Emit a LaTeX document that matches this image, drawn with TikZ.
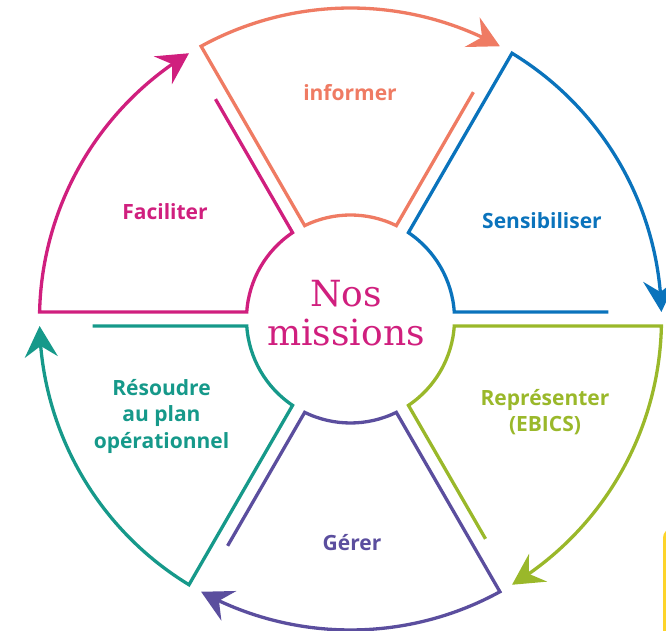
\documentclass[tikz,border=0pt]{standalone}
\usepackage{fontspec}
\newfontfamily\lab{Open Sans}
\newfontfamily\slab{DejaVu Serif}
\usetikzlibrary{arrows.meta,bending}
\definecolor{cInf}{HTML}{EF7B63}
\definecolor{cSen}{HTML}{0A73BC}
\definecolor{cRep}{HTML}{9AB82A}
\definecolor{cGer}{HTML}{5B4E9E}
\definecolor{cRes}{HTML}{16998A}
\definecolor{cFac}{HTML}{D01F7E}
\definecolor{cYel}{HTML}{FDD42A}
\begin{document}
\begin{tikzpicture}[x=1pt,y=1pt,
  sec/.style={line width=3.3pt, line join=miter, -{Stealth[length=31pt,width=33pt,inset=11pt,flex]}},
  lbl/.style={font=\lab\bfseries\fontsize{21}{26.5}\selectfont, align=center}]
\useasboundingbox (0,0) rectangle (666,631);
\clip (0,0) rectangle (666,631);
\coordinate (C) at (350.5,312);
\begin{scope}[shift={(C)}]
\foreach \a/\col in {60/cInf, 0/cSen, -60/cRep, -120/cGer, 180/cRes, 120/cFac} {
  \pgfmathsetmacro\b{\a+60}
  \draw[sec, color=\col] (\a+1.555:258) -- (\a+3.859:104)
    arc[start angle=\a+3.859, end angle=\b-3.859, radius=104]
    -- (\b-1.29:311)
    arc[start angle=\b-1.29, end angle=\a+1.29, radius=311];
}
\end{scope}
\node[lbl, text=cInf] (informer) at (350,538) {informer};
\node[lbl, text=cSen] (sens) at (542,410) {Sensibiliser};
\node[lbl, text=cRep] (rep) at (545,219) {Représenter\\(EBICS)};
\node[lbl, text=cGer] (ger) at (352,88) {Gérer};
\node[lbl, text=cRes] (res) at (161.5,215) {Résoudre\\au plan\\opérationnel};
\node[lbl, text=cFac] (fac) at (165,419) {Faciliter};
\node[font=\slab\fontsize{36}{39}\selectfont, text=cFac, align=center] (nos) at (346,317.5) {Nos\\missions};
\draw[cYel, line width=4pt, rounded corners=8pt] (665,-10) -- (665,101) -- (700,101);
\end{tikzpicture}
\end{document}
